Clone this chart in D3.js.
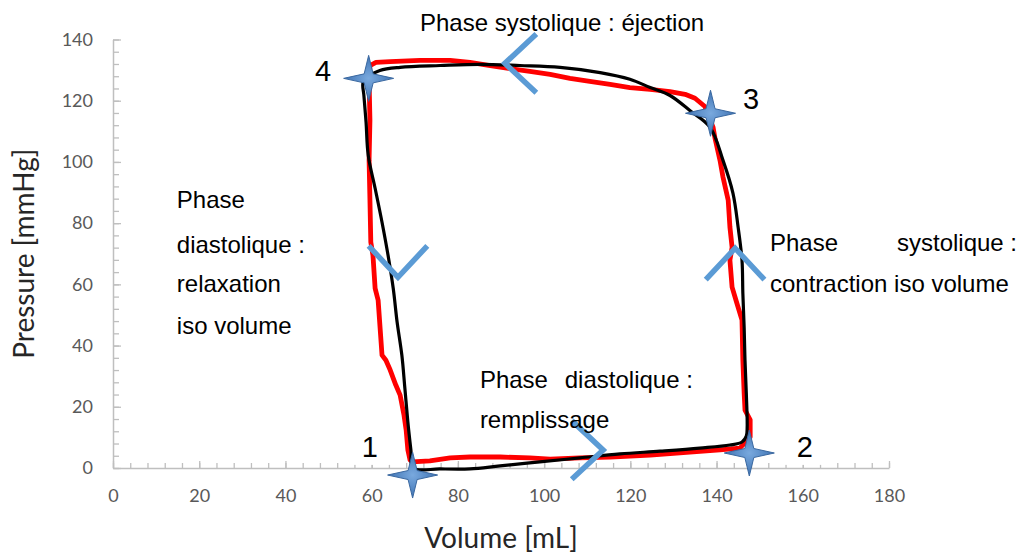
<!DOCTYPE html>
<html><head><meta charset="utf-8">
<script src="https://cdn.jsdelivr.net/npm/d3@7"></script>
<style>html,body{margin:0;padding:0;background:#fff;} svg{display:block}</style>
</head><body><svg id="c" width="1021" height="553"></svg>
<script>
// ---------- data ----------
const volumeTicks = [0, 20, 40, 60, 80, 100, 120, 140, 160, 180];
const pressureTicks = [0, 20, 40, 60, 80, 100, 120, 140];

// measured loop (red)
const measuredVolume = [69.4, 73.5, 78.2, 82.8, 89.8, 96.7, 101.4, 108.3, 115.3, 124.6, 133.8, 140.8, 145.4, 146.6, 147.8, 147.8, 146.6, 146.4, 146.1, 145.9, 144.7, 143.6, 143.1, 143.6, 143.1, 142.7, 141.5, 140.8, 139.6, 139.2, 137.3, 135.0, 132.7, 129.2, 124.6, 119.9, 115.3, 110.6, 106.0, 101.4, 96.7, 92.1, 87.5, 82.8, 78.2, 71.2, 64.3, 61.0, 59.6, 59.4, 59.6, 59.4, 59.6, 59.8, 60.3, 60.8, 61.5, 62.4, 63.3, 64.3, 65.6, 66.6, 67.5, 68.0, 68.4, 68.9, 69.4];
const measuredPressure = [2.0, 2.3, 3.3, 3.6, 3.6, 3.3, 2.9, 3.3, 3.6, 4.2, 5.2, 5.9, 6.5, 8.2, 10.1, 15.7, 18.9, 24.5, 35.2, 48.3, 53.9, 59.1, 67.9, 72.1, 78.7, 87.5, 95.0, 100.5, 108.0, 111.3, 118.1, 120.8, 122.1, 123.0, 123.7, 124.3, 125.3, 126.3, 127.3, 128.6, 129.6, 130.5, 131.5, 132.5, 133.2, 133.2, 132.8, 132.5, 131.5, 126.6, 113.6, 100.5, 87.5, 73.8, 69.5, 58.7, 54.8, 36.9, 35.2, 32.0, 27.1, 23.8, 17.3, 12.4, 5.9, 2.6, 2.0];

// model loop (black)
const modelVolume = [69.6, 75.9, 82.8, 89.8, 99.0, 108.3, 117.6, 126.9, 136.1, 143.1, 145.9, 146.9, 147.1, 146.9, 146.6, 146.4, 146.1, 145.9, 145.0, 143.8, 141.5, 138.5, 133.8, 129.2, 124.6, 119.9, 113.0, 103.7, 94.4, 85.1, 75.9, 66.6, 61.9, 59.2, 58.0, 58.2, 58.7, 59.2, 60.8, 62.4, 63.8, 65.0, 65.9, 67.0, 67.7, 68.4, 69.1];
const modelPressure = [0.0, -0.3, -0.3, 0.7, 2.0, 3.3, 4.6, 5.5, 6.5, 7.5, 8.5, 10.4, 13.4, 24.5, 35.2, 46.0, 57.1, 67.9, 78.7, 89.8, 100.5, 111.3, 116.8, 121.7, 124.3, 127.0, 129.2, 130.9, 131.5, 131.9, 131.5, 130.9, 129.9, 127.9, 125.9, 121.7, 112.9, 102.2, 91.4, 80.3, 69.5, 58.7, 47.7, 36.9, 26.1, 15.0, 5.9];

// numbered points (stars) and their labels
const pointNames = ["1", "2", "3", "4"];
const pointVolume = [69.5, 147.6, 138.6, 59.3];
const pointPressure = [-2.3, 4.9, 115.9, 127.3];
const pointLabelVolume = [59.6, 160.5, 148.0, 48.7];
const pointLabelPressure = [6.9, 6.9, 120.8, 129.9];

// direction arrows (chevrons)
const arrowVolume = [113.7, 144.3, 90.9, 66.1];
const arrowPressure = [5.9, 71.8, 132.2, 62.3];
const arrowDirection = ["right", "up", "left", "down"];

// phase annotations
const phaseLeft = ["Phase systolique : éjection", "Phase", "diastolique :", "relaxation", "iso volume", "Phase", "contraction iso volume", "Phase", "remplissage"];
const phaseRight = ["", "", "", "", "", "systolique :", "", "diastolique :", ""];
const phaseVolume = [71.2, 14.8, 14.8, 14.8, 14.8, 152.4, 152.4, 85.1, 85.1];
const phaseVolumeEnd = [null, null, null, null, null, 209.7, null, 134.5, null];
const phasePressure = [142.9, 84.9, 70.2, 57.4, 43.7, 70.8, 57.4, 26.1, 13.1];

const xTitle = "Volume [mL]";
const yTitle = "Pressure [mmHg]";

// ---------- drawing ----------
const svg = d3.select("#c");
svg.append("rect").attr("width", 1021).attr("height", 553).attr("fill", "#fff");

const x = d3.scaleLinear().domain([0, 180]).range([113, 889]);
const y = d3.scaleLinear().domain([0, 140]).range([468, 39.5]);

const axisColor = "#bfbfbf";
const tickFont = "Lato, 'Open Sans', sans-serif";

// minor ticks
svg.append("g").attr("transform", "translate(0,468)")
  .call(d3.axisBottom(x).tickValues(d3.range(0, 181, 4)).tickSize(-5).tickSizeOuter(0).tickFormat(""))
  .call(g => g.select(".domain").remove())
  .call(g => g.selectAll("line").attr("stroke", axisColor).attr("stroke-width", 1.3));
svg.append("g").attr("transform", "translate(113,0)")
  .call(d3.axisLeft(y).tickValues(d3.range(0, 141, 4)).tickSize(-6).tickSizeOuter(0).tickFormat(""))
  .call(g => g.select(".domain").remove())
  .call(g => g.selectAll("line").attr("stroke", axisColor).attr("stroke-width", 1.3));

// major axes
const gx = svg.append("g").attr("transform", "translate(0,468)")
  .call(d3.axisBottom(x).tickValues(volumeTicks).tickSize(-7).tickSizeOuter(0).tickPadding(21));
const gy = svg.append("g").attr("transform", "translate(113,0)")
  .call(d3.axisLeft(y).tickValues(pressureTicks).tickSize(-8).tickSizeOuter(0).tickPadding(20));
[gx, gy].forEach(g => {
  g.select(".domain").attr("stroke", axisColor).attr("stroke-width", 1.5);
  g.selectAll(".tick line").attr("stroke", axisColor).attr("stroke-width", 1.3);
  g.selectAll(".tick text").attr("fill", "#595959").style("font-family", tickFont).style("font-size", "18px");
});

// axis titles
svg.append("text").attr("x", (x(0) + x(180)) / 2).attr("y", 548).attr("text-anchor", "middle")
  .style("font-family", tickFont).style("font-size", "28px").attr("fill", "#262626").text(xTitle);
svg.append("text").attr("transform", `translate(34,${(y(0) + y(140)) / 2}) rotate(-90)`).attr("text-anchor", "middle")
  .style("font-family", tickFont).style("font-size", "28px").attr("fill", "#262626").text(yTitle);

// white text boxes behind numbered labels (they hide axis ticks)
pointNames.forEach((n, i) => {
  const cx = x(pointLabelVolume[i]), cy = y(pointLabelPressure[i]);
  svg.append("rect").attr("x", cx - 30).attr("y", cy - 24).attr("width", 60).attr("height", 42).attr("fill", "#fff");
});

// curves
const measured = measuredVolume.map((v, i) => [v, measuredPressure[i]]);
const model = modelVolume.map((v, i) => [v, modelPressure[i]]);

svg.append("path").datum(measured)
  .attr("d", d3.line().x(d => x(d[0])).y(d => y(d[1])).curve(d3.curveLinearClosed))
  .attr("fill", "none").attr("stroke", "#ff0000").attr("stroke-width", 4.8).attr("stroke-linejoin", "round");

svg.append("path").datum(model)
  .attr("d", d3.line().x(d => x(d[0])).y(d => y(d[1])).curve(d3.curveCatmullRomClosed.alpha(0.5)))
  .attr("fill", "none").attr("stroke", "#000").attr("stroke-width", 3.2).attr("stroke-linejoin", "round");

// stars
const defs = svg.append("defs");
const grad = defs.append("radialGradient").attr("id", "starG");
grad.append("stop").attr("offset", "0%").attr("stop-color", "#79a9de");
grad.append("stop").attr("offset", "100%").attr("stop-color", "#3f73b3");
const starPath = (cx, cy) => {
  const a = 25, b = 23, c = 4.5;
  return `M${cx},${cy - b}L${cx + c},${cy - c}L${cx + a},${cy}L${cx + c},${cy + c}L${cx},${cy + b}L${cx - c},${cy + c}L${cx - a},${cy}L${cx - c},${cy - c}Z`;
};
pointNames.forEach((n, i) => {
  svg.append("path").attr("d", starPath(x(pointVolume[i]), y(pointPressure[i])))
    .attr("fill", "url(#starG)").attr("stroke", "#3a68a0").attr("stroke-width", 1).attr("stroke-linejoin", "miter");
});

// numbered labels
pointNames.forEach((n, i) => {
  svg.append("text").attr("x", x(pointLabelVolume[i])).attr("y", y(pointLabelPressure[i]) + 10.5)
    .attr("text-anchor", "middle").style("font-family", "'Liberation Sans', Arial, sans-serif").style("font-size", "29px")
    .attr("fill", "#000").text(n);
});

// chevron arrows
const dirAngle = { right: 0, up: -90, left: 180, down: 90 };
arrowDirection.forEach((d, i) => {
  const vx = x(arrowVolume[i]), vy = y(arrowPressure[i]);
  const back = (dirAngle[d] + 180) * Math.PI / 180;
  const spread = 43 * Math.PI / 180, L = 43;
  const p1 = [vx + L * Math.cos(back - spread), vy + L * Math.sin(back - spread)];
  const p2 = [vx + L * Math.cos(back + spread), vy + L * Math.sin(back + spread)];
  svg.append("path").attr("d", `M${p1[0]},${p1[1]}L${vx},${vy}L${p2[0]},${p2[1]}`)
    .attr("fill", "none").attr("stroke", "#5b9bd5").attr("stroke-width", 5.5).attr("stroke-linejoin", "miter");
});

// phase annotations
const annFont = "'Liberation Sans', Arial, sans-serif";
phaseLeft.forEach((t, i) => {
  svg.append("text").attr("x", x(phaseVolume[i])).attr("y", y(phasePressure[i]))
    .style("font-family", annFont).style("font-size", "24px").attr("fill", "#000").text(t);
  if (phaseRight[i]) {
    svg.append("text").attr("x", x(phaseVolumeEnd[i])).attr("y", y(phasePressure[i])).attr("text-anchor", "end")
      .style("font-family", annFont).style("font-size", "24px").attr("fill", "#000").text(phaseRight[i]);
  }
});
</script></body></html>
